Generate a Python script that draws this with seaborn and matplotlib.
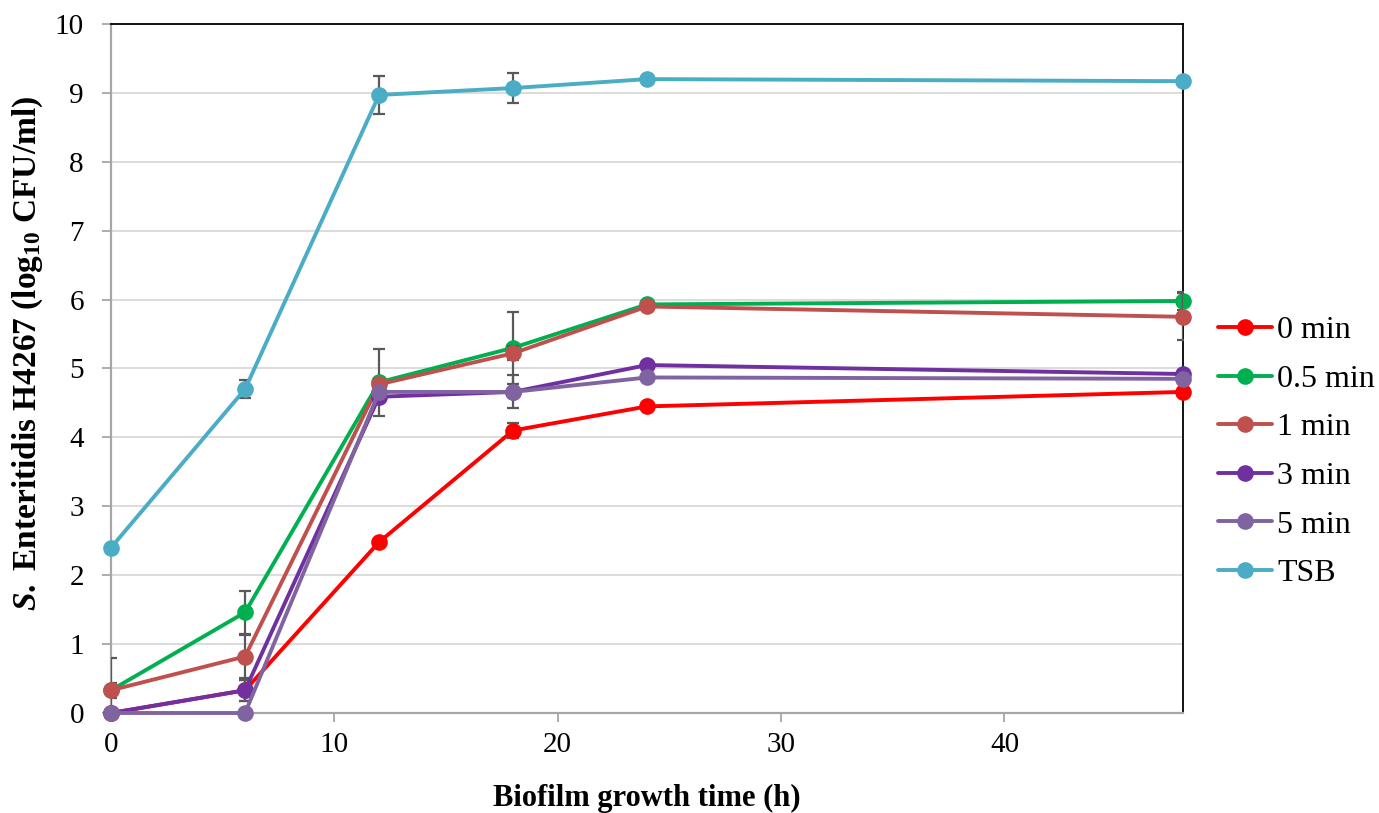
import matplotlib
matplotlib.use("Agg")
import matplotlib.pyplot as plt
import seaborn as sns
import pandas as pd

# Biofilm growth time points (h)
hours = [0, 6, 12, 18, 24, 48]

# Mean counts (log10 CFU/ml) and standard deviations per treatment
labels = ["0 min", "0.5 min", "1 min", "3 min", "5 min", "TSB"]
cfu_0min = [0.00, 0.33, 2.48, 4.10, 4.45, 4.66]
err_0min = [0.00, 0.15, 0.02, 0.11, 0.02, 0.02]
cfu_05min = [0.33, 1.46, 4.80, 5.30, 5.93, 5.98]
err_05min = [0.47, 0.31, 0.49, 0.52, 0.02, 0.13]
cfu_1min = [0.33, 0.82, 4.77, 5.22, 5.90, 5.75]
err_1min = [0.11, 0.31, 0.08, 0.10, 0.02, 0.34]
cfu_3min = [0.00, 0.33, 4.59, 4.66, 5.05, 4.92]
err_3min = [0.00, 0.15, 0.08, 0.24, 0.02, 0.02]
cfu_5min = [0.00, 0.00, 4.66, 4.66, 4.87, 4.85]
err_5min = [0.00, 0.00, 0.02, 0.02, 0.02, 0.02]
cfu_tsb = [2.40, 4.70, 8.97, 9.07, 9.20, 9.17]
err_tsb = [0.02, 0.13, 0.27, 0.22, 0.02, 0.02]

colors = ["#FF0000", "#00B050", "#C0504D", "#7030A0", "#8064A2", "#4BACC6"]

means = [cfu_0min, cfu_05min, cfu_1min, cfu_3min, cfu_5min, cfu_tsb]
errs = [err_0min, err_05min, err_1min, err_3min, err_5min, err_tsb]

rows = []
for lab, m, e in zip(labels, means, errs):
    for h, v, s in zip(hours, m, e):
        rows.append({"time": h, "cfu": v, "sd": s, "group": lab})
df = pd.DataFrame(rows)

sns.set_theme(style="white")
plt.rcParams["font.family"] = ["Liberation Serif", "DejaVu Serif"]
plt.rcParams["text.color"] = "black"
plt.rcParams["axes.labelcolor"] = "black"
plt.rcParams["mathtext.fontset"] = "custom"
plt.rcParams["mathtext.rm"] = "Liberation Serif:bold"
plt.rcParams["mathtext.bf"] = "Liberation Serif:bold"
plt.rcParams["mathtext.it"] = "Liberation Serif:italic:bold"
plt.rcParams["mathtext.bfit"] = "Liberation Serif:italic:bold"

fig = plt.figure(figsize=(13.79, 8.13), dpi=100)
ax = fig.add_axes([0.0805, 0.123, 0.7775, 0.8475])

# horizontal gridlines
ax.set_axisbelow(True)
ax.yaxis.grid(True, color="#D9D9D9", linewidth=1.3)
ax.xaxis.grid(False)

for i, (lab, col) in enumerate(zip(labels, colors)):
    sub = df[df["group"] == lab]
    ax.errorbar(sub["time"], sub["cfu"], yerr=sub["sd"], fmt="none",
                ecolor="#595959", elinewidth=1.6, capsize=4.5, capthick=1.6,
                zorder=3 + 2 * i)
    sns.lineplot(data=sub, x="time", y="cfu", ax=ax, color=col, marker="o",
                 markersize=12, markeredgewidth=0, linewidth=2.8,
                 label=lab, zorder=4 + 2 * i, clip_on=False,
                 errorbar=None, sort=False)

ax.set_xlim(0, 48)
ax.set_ylim(0, 10)
ax.set_xticks([0, 10, 20, 30, 40])
ax.set_yticks(range(0, 11))
ax.tick_params(axis="both", which="both", direction="out", length=6.5,
               width=1.3, color="#A6A6A6", labelsize=21,
               labelcolor="black", bottom=True, left=True)
ax.tick_params(axis="y", pad=13)
ax.tick_params(axis="x", pad=7)

for side in ["left", "bottom"]:
    ax.spines[side].set_color("#A6A6A6")
    ax.spines[side].set_linewidth(1.6)
for side in ["top", "right"]:
    ax.spines[side].set_color("black")
    ax.spines[side].set_linewidth(1.3)

ax.set_xlabel("Biofilm growth time (h)", fontsize=22, fontweight="bold",
              color="black")
ax.set_ylabel(r"$\mathit{S.}$ Enteritidis H4267 (log$_{\mathbf{10}}$ CFU/ml)",
              fontsize=24, fontweight="bold", color="black")
ax.xaxis.set_label_coords(0.5, -0.103)
ax.yaxis.set_label_coords(-0.062, 0.5225)

leg = ax.legend(loc="center left", bbox_to_anchor=(0.874, 0.444),
                bbox_transform=fig.transFigure, frameon=False, fontsize=23,
                handlelength=1.7, handletextpad=0.15, labelspacing=0.6,
                borderaxespad=0)
for t in leg.get_texts():
    t.set_color("black")

fig.savefig("out.png", dpi=100)
